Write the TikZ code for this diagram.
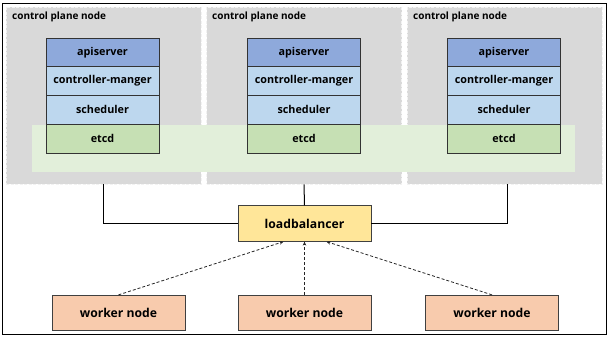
\documentclass[tikz,border=0pt]{standalone}
\usepackage{fontspec}
\setmainfont{Open Sans}
\usetikzlibrary{arrows.meta,calc}
\definecolor{cpgray}{HTML}{D9D9D9}
\definecolor{cpborder}{HTML}{F2F2F2}
\definecolor{bandgreen}{HTML}{E2EFDA}
\definecolor{apiblue}{HTML}{8EA9DB}
\definecolor{lightblue}{HTML}{BDD7EE}
\definecolor{etcdgreen}{HTML}{C6E0B4}
\definecolor{lbyellow}{HTML}{FFE699}
\definecolor{workerorange}{HTML}{F8CBAD}
\tikzset{
  cpbox/.style={draw=cpborder, fill=cpgray, line width=0.8pt, dash pattern=on 3pt off 1.5pt, minimum width=195pt, minimum height=177pt, inner sep=0pt},
  cplabel/.style={anchor=west, font=\fontsize{10}{12}\selectfont\bfseries, inner sep=0pt},
  stackrow/.style={draw=black!80, line width=0.8pt, minimum width=113pt, minimum height=28.75pt, inner sep=0pt, font=\fontsize{10.8}{13}\selectfont\bfseries},
  mainbox/.style={draw=black!75, line width=0.8pt, minimum width=133pt, minimum height=35.5pt, inner sep=0pt, font=\fontsize{12.2}{14}\selectfont\bfseries},
  link/.style={draw=black, line width=1pt},
  dasharrow/.style={draw=black!85, line width=0.8pt, dash pattern=on 3pt off 2pt, -{Stealth[length=4pt,width=3.5pt]}}
}
\begin{document}
\begin{tikzpicture}[x=1pt,y=-1pt]
\useasboundingbox (0,0) rectangle (610,338);
\node[draw=black, line width=1.3pt, minimum width=603.5pt, minimum height=331pt, inner sep=0pt] (frame) at (304.5,169) {};
% control plane boxes
\node[cpbox] (cp1) at (103.5,95.5) {};
\node[cpbox] (cp2) at (304,95.5) {};
\node[cpbox] (cp3) at (504.5,95.5) {};
\node[cplabel] (l1) at (12,17) {control plane node};
\node[cplabel] (l2) at (212,17) {control plane node};
\node[cplabel] (l3) at (413,17) {control plane node};
% band
\node[fill=bandgreen, minimum width=543pt, minimum height=47pt, inner sep=0pt] (band) at (303.5,148.5) {};
% stacks
\foreach \i/\x in {1/102.5, 2/304, 3/504}{
  \node[stackrow, fill=apiblue] (api\i) at (\x,52.4) {apiserver};
  \node[stackrow, fill=lightblue] (cm\i) at (\x,81.1) {controller-manger};
  \node[stackrow, fill=lightblue] (sch\i) at (\x,109.9) {scheduler};
  \node[stackrow, fill=etcdgreen] (etcd\i) at (\x,138.6) {etcd};
}
% load balancer
\node[mainbox, fill=lbyellow] (lb) at (304.5,223.5) {loadbalancer};
% workers
\node[mainbox, fill=workerorange] (w1) at (118.5,313) {worker node};
\node[mainbox, fill=workerorange] (w2) at (304.5,313) {worker node};
\node[mainbox, fill=workerorange] (w3) at (492,313) {worker node};
% links
\draw[link] (cp1.south) |- (lb.west);
\draw[link] (cp2.south) -- (lb.north);
\draw[link] ($(cp3.south)+(3,0)$) |- (lb.east);
% dashed arrows
\draw[dasharrow] (w1.north) -- ($(lb.south)+(-21,0)$);
\draw[dasharrow] (w2.north) -- (lb.south);
\draw[dasharrow] (w3.north) -- ($(lb.south)+(22,0)$);
\end{tikzpicture}
\end{document}
